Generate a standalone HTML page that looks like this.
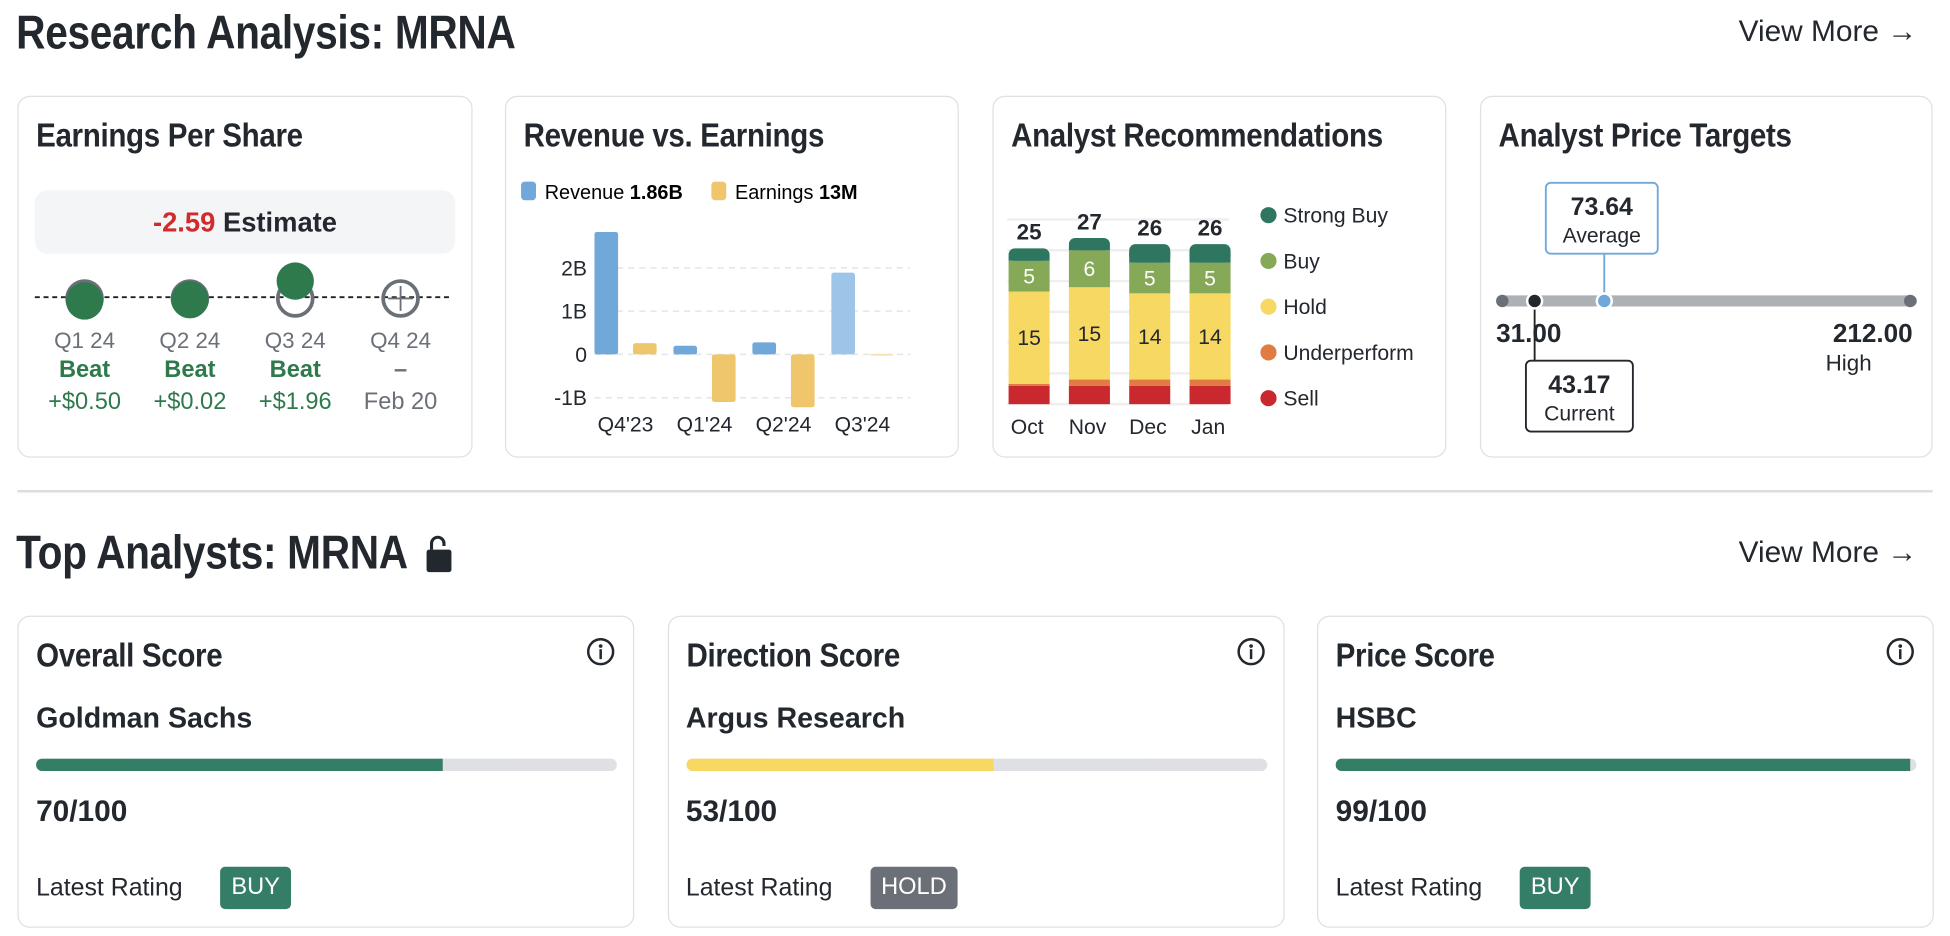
<!DOCTYPE html>
<html><head><meta charset="utf-8">
<style>
html,body{margin:0;padding:0;background:#fff;width:1950px;height:936px;overflow:hidden}
#root{position:absolute;left:0;top:0;width:1568px;height:753px;transform:scale(1.24362);transform-origin:0 0;font-family:"Liberation Sans",sans-serif;color:#23272e}
.abs{position:absolute}
.h{font-family:"Liberation Sans",sans-serif;font-weight:bold;letter-spacing:-0.3px;white-space:nowrap;transform:scaleX(0.88);transform-origin:0 0}
.card{position:absolute;border:1.5px solid #dfe0e3;border-radius:10px;box-sizing:border-box;background:#fff}
.ct{position:absolute;left:14px;top:16px;font-size:27px}
svg text{font-family:"Liberation Sans",sans-serif}
</style></head><body>
<div id="root">
<div class="abs h" style="left:13px;top:6px;font-size:38px;transform:scaleX(0.86)">Research Analysis: MRNA</div>
<div class="abs" style="left:1398px;top:12px;font-size:24px;white-space:nowrap">View More →</div>

<!-- EPS card -->
<div class="card" style="left:14px;top:77px;width:366px;height:291px">
<div class="ct h">Earnings Per Share</div>
<div class="abs" style="left:13px;top:75px;width:338px;height:51px;background:#f4f5f7;border-radius:10px;text-align:center;line-height:51px;font-size:22px;font-weight:bold"><span style="color:#d12b2b">-2.59</span> Estimate</div>
</div>
<svg class="abs" style="left:0;top:0" width="380" height="370">
<line x1="28" y1="239" x2="362" y2="239" stroke="#222" stroke-width="1.5" stroke-dasharray="4,3"/>
<g id="eps"></g>
</svg>

<!-- Revenue card -->
<div class="card" style="left:406px;top:77px;width:365px;height:291px">
<div class="ct h">Revenue vs. Earnings</div>
</div>
<svg class="abs" style="left:0;top:0" width="780" height="370" id="rev">
<rect x="419" y="146" width="12" height="15" rx="3" fill="#6fa8d9"/>
<text x="438" y="160" font-size="16">Revenue <tspan font-weight="bold">1.86B</tspan></text>
<rect x="572" y="146" width="12" height="15" rx="3" fill="#f0c66d"/>
<text x="591" y="160" font-size="16">Earnings <tspan font-weight="bold">13M</tspan></text>
</svg>

<!-- Recommendations card -->
<div class="card" style="left:798px;top:77px;width:365px;height:291px">
<div class="ct h">Analyst Recommendations</div>
</div>
<svg class="abs" style="left:0;top:0" width="1170" height="370" id="rec"></svg>

<!-- Price targets card -->
<div class="card" style="left:1190px;top:77px;width:364px;height:291px">
<div class="ct h">Analyst Price Targets</div>
</div>
<svg class="abs" style="left:0;top:0" width="1568" height="370">
<line x1="1208" y1="242" x2="1537" y2="242" stroke="#adb0b5" stroke-width="9" stroke-linecap="round"/>
<circle cx="1208" cy="242" r="5" fill="#6b7078"/>
<circle cx="1536" cy="242" r="5" fill="#6b7078"/>
<line x1="1290" y1="204" x2="1290" y2="242" stroke="#6fa8d9" stroke-width="1.5"/>
<circle cx="1290" cy="242" r="6" fill="#6fa8d9" stroke="#fff" stroke-width="2"/>
<line x1="1234" y1="242" x2="1234" y2="290" stroke="#222" stroke-width="1.5"/>
<circle cx="1234" cy="242" r="6" fill="#23272e" stroke="#fff" stroke-width="2"/>
<rect x="1243" y="147" width="90" height="57" rx="4" fill="#fff" stroke="#6fa8d9" stroke-width="1.5"/>
<text x="1288" y="173" font-size="20" font-weight="bold" text-anchor="middle" fill="#23272e">73.64</text>
<text x="1288" y="195" font-size="17" text-anchor="middle" fill="#23272e">Average</text>
<rect x="1227" y="290" width="86" height="57" rx="4" fill="#fff" stroke="#23272e" stroke-width="1.5"/>
<text x="1270" y="316" font-size="20" font-weight="bold" text-anchor="middle" fill="#23272e">43.17</text>
<text x="1270" y="338" font-size="17" text-anchor="middle" fill="#23272e">Current</text>
<text x="1203" y="275" font-size="21" font-weight="bold" fill="#23272e">31.00</text>
<text x="1538" y="275" font-size="21" font-weight="bold" text-anchor="end" fill="#23272e">212.00</text>
<text x="1468" y="298" font-size="18" fill="#23272e">High</text>
</svg>

<div class="abs" style="left:14px;top:394px;width:1540px;height:1.5px;background:#dcdde0"></div>

<div class="abs h" style="left:13px;top:424px;font-size:38px;transform:scaleX(0.86)">Top Analysts: MRNA</div>
<svg class="abs" style="left:342px;top:430px" width="24" height="32"><path d="M5 12 V7 a5 5 0 0 1 10 0 V9" fill="none" stroke="#23272e" stroke-width="2.5"/><rect x="1" y="12" width="20" height="18" rx="2" fill="#23272e"/></svg>
<div class="abs" style="left:1398px;top:431px;font-size:24px;white-space:nowrap">View More →</div>

<div id="scores"></div>
</div>

<script>
const NS="http://www.w3.org/2000/svg";
function mk(tag,attrs,parent,txt){const e=document.createElementNS(NS,tag);for(const k in attrs)e.setAttribute(k,attrs[k]);if(txt!==undefined)e.textContent=txt;parent.appendChild(e);return e;}

// EPS data
const epsQuarters=["Q1 24","Q2 24","Q3 24","Q4 24"];
const epsStatus=["Beat","Beat","Beat","–"];
const epsDiff=["+$0.50","+$0.02","+$1.96","Feb 20"];
const epsOffset=[3,2,-13,null];
const eps=document.getElementById('eps');
const epsX=i=>68+i*84.7;
epsQuarters.forEach((q,i)=>{
  const x=epsX(i);
  const c=mk('circle',{cx:x,cy:240,r:14,fill:'none',stroke:'#6b7078','stroke-width':3},eps);
  
  
  if(epsOffset[i]!==null){
    const a=mk('circle',{cx:x,cy:240+epsOffset[i]-1,r:15,fill:'#2f7a4d'},eps);
    
    
  } else {
    mk('line',{x1:x,y1:230,x2:x,y2:250,stroke:'#6b7078','stroke-width':1.5},eps);
    mk('line',{x1:x-10,y1:240,x2:x+10,y2:240,stroke:'#6b7078','stroke-width':1.5},eps);
  }
  const green=epsOffset[i]!==null;
  mk('text',{x:x,y:280,'font-size':18,'text-anchor':'middle',fill:'#6b7078'},eps,q);
  mk('text',{x:x,y:303,'font-size':19,'font-weight':'bold','text-anchor':'middle',fill:green?'#2f7a4d':'#6b7078'},eps,epsStatus[i]);
  mk('text',{x:x,y:329,'font-size':19,'text-anchor':'middle',fill:green?'#2f7a4d':'#6b7078'},eps,epsDiff[i]);
});

// Revenue vs earnings
const revCats=["Q4'23","Q1'24","Q2'24","Q3'24"];
const revenue=[2.83,0.2,0.28,1.89];
const earnings=[0.26,-1.1,-1.22,0.013];
const revTicks=[2,1,0,-1];
const revTickLabels=["2B","1B","0","-1B"];
const rev=document.getElementById('rev');
const ry=v=>285-v*34.8;
const rx=i=>478+i*63.5;
revTicks.forEach((t,i)=>{
  mk('line',{x1:478,y1:ry(t),x2:732,y2:ry(t),stroke:'#e4e5e8','stroke-width':1.2,'stroke-dasharray':'5,4'},rev);
  mk('text',{x:472,y:ry(t)+6,'font-size':17,'text-anchor':'end',fill:'#23272e'},rev,revTickLabels[i]);
});
revCats.forEach((c,i)=>{
  const x=rx(i);
  const r=revenue[i],e=earnings[i];
  const b1=mk('rect',{x:x,y:Math.min(ry(r),ry(0)),width:19,height:Math.max(Math.abs(ry(r)-ry(0)),1),rx:2,fill:i===3?'#9cc5e8':'#6fa8d9'},rev);
  
  
  const b2=mk('rect',{x:x+31,y:Math.min(ry(e),ry(0)),width:19,height:Math.max(Math.abs(ry(e)-ry(0)),1.5),rx:2,fill:i===3?'#f7e2b8':'#f0c66d'},rev);
  
  
  mk('text',{x:x+25,y:347,'font-size':17,'text-anchor':'middle',fill:'#23272e'},rev,c);
});

// Recommendations
const recMonths=["Oct","Nov","Dec","Jan"];
const sell=[3,3,3,3];
const underperform=[0.3,1,1,1];
const hold=[15,15,14,14];
const buy=[5,6,5,5];
const strongBuy=[2,2,3,3];
const totals=[25,27,26,26];
const recSeries=[sell,underperform,hold,buy,strongBuy];
const recColors=["#c8282e","#e07b44","#f7d862","#86a957","#2f7660"];
const recNames=["Sell","Underperform","Hold","Buy","Strong Buy"];
const rec=document.getElementById('rec');
const base=325,unit=4.95;
const bx=i=>811+i*48.5;
[0,5,10,15,20,25,30].forEach(t=>{
  mk('line',{x1:810,y1:base-t*unit,x2:988,y2:base-t*unit,stroke:'#efeff1','stroke-width':2},rec);
});
recMonths.forEach((m,i)=>{
  let acc=0;
  recSeries.forEach((s,k)=>{
    const h=s[i]*unit;
    const r=mk('rect',{x:bx(i),y:base-acc-h,width:33,height:h,fill:recColors[k]},rec);
    
    
    if(k===4){r.setAttribute('rx',5);mk('rect',{x:bx(i),y:base-acc-h+6,width:33,height:h-6,fill:recColors[k]},rec);}
    if(k===2||k===3) mk('text',{x:bx(i)+16.5,y:base-acc-h/2+6,'font-size':17,'text-anchor':'middle',fill:k===3?'#fff':'#23272e'},rec,s[i]);
    acc+=h;
  });
  mk('text',{x:bx(i)+16.5,y:base-acc-7,'font-size':18,'font-weight':'bold','text-anchor':'middle',fill:'#23272e'},rec,totals[i]);
  mk('text',{x:bx(i)+15,y:349,'font-size':17,'text-anchor':'middle',fill:'#23272e'},rec,m);
});
const legOrder=[4,3,2,1,0];
legOrder.forEach((k,j)=>{
  const y=173+j*36.8;
  const c=mk('circle',{cx:1020,cy:y,r:6.5,fill:recColors[k]},rec);
  
  
  mk('text',{x:1032,y:y+6,'font-size':17,fill:'#23272e'},rec,recNames[k]);
});

// Score cards
const scoreTitles=["Overall Score","Direction Score","Price Score"];
const firms=["Goldman Sachs","Argus Research","HSBC"];
const scores=[70,53,99];
const ratings=["BUY","HOLD","BUY"];
const sc=document.getElementById('scores');
scoreTitles.forEach((t,i)=>{
  const left=14+i*522.5;
  const col=ratings[i]==="HOLD"?'#f7d862':'#347d66';
  const badge=ratings[i]==="HOLD"?'#6b7078':'#347d66';
  const d=document.createElement('div');
  d.className='card';
  d.style.cssText=`left:${left}px;top:495px;width:496px;height:251px`;
  
  
  d.innerHTML=`<div class="ct h" style="top:16px">${t}</div>
  <svg class="abs" style="right:14px;top:16px" width="24" height="24"><circle cx="12" cy="12" r="10" fill="none" stroke="#23272e" stroke-width="2"/><circle cx="12" cy="7.5" r="1.5" fill="#23272e"/><rect x="11" y="10" width="2" height="8" fill="#23272e"/></svg>
  <div class="abs" style="left:14px;top:68px;font-size:23px;font-weight:bold;white-space:nowrap">${firms[i]}</div>
  <div class="abs" style="left:14px;top:114px;width:467px;height:10px;border-radius:5px;background:#dfe0e4;overflow:hidden"><div style="width:${scores[i]}%;height:100%;background:${col}"></div></div>
  <div class="abs" style="left:14px;top:143px;font-size:24px;font-weight:bold">${scores[i]}/100</div>
  <div class="abs" style="left:14px;top:207px;font-size:20px;white-space:nowrap">Latest Rating</div>
  <div class="abs" style="left:162px;top:201px;height:34px;padding:0 9px;line-height:34px;border-radius:4px;background:${badge};color:#fff;font-size:19px">${ratings[i]}</div>`;
  sc.appendChild(d);
});
</script>
</body></html>
